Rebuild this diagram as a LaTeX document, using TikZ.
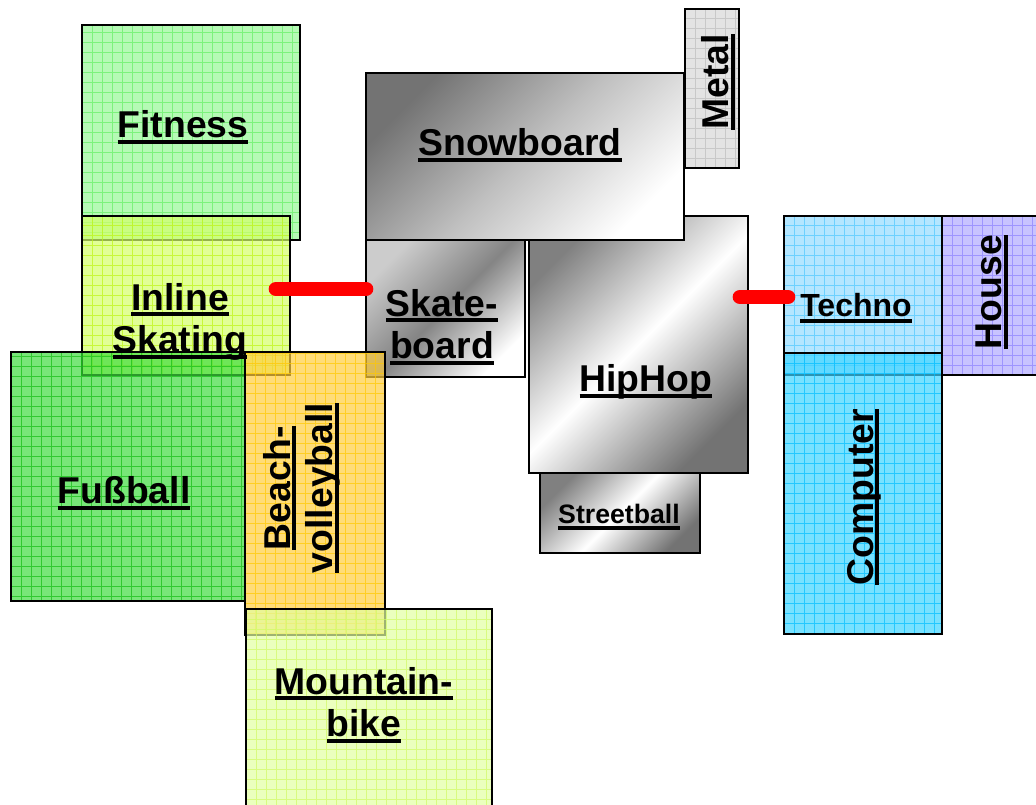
\documentclass[tikz,border=0pt]{standalone}
\usepackage{fontspec}
\setmainfont{Liberation Sans}
\usetikzlibrary{fit}
\definecolor{fitfill}{RGB}{150,248,150}  \definecolor{fitgrid}{RGB}{100,240,100}
\definecolor{inlfill}{RGB}{212,255,105}  \definecolor{inlgrid}{RGB}{190,245,20}
\definecolor{fusfill}{RGB}{62,219,62}    \definecolor{fusgrid}{RGB}{20,190,20}
\definecolor{beafill}{RGB}{255,205,62}   \definecolor{beagrid}{RGB}{255,200,0}
\definecolor{mtbfill}{RGB}{226,255,162}  \definecolor{mtbgrid}{RGB}{210,250,100}
\definecolor{tecfill}{RGB}{148,219,255}  \definecolor{tecgrid}{RGB}{80,200,255}
\definecolor{comfill}{RGB}{62,212,255}   \definecolor{comgrid}{RGB}{0,190,255}
\definecolor{houfill}{RGB}{176,169,255}  \definecolor{hougrid}{RGB}{140,130,255}
\definecolor{metfill}{RGB}{215,215,215}  \definecolor{metgrid}{RGB}{190,190,190}
\newcommand\ulbox[1]{\setbox0\hbox{#1}\rlap{\rule[-4.5pt]{\wd0}{3pt}}\box0}
\tikzset{
    tile/.style 2 args={draw=black, line width=2pt, inner sep=0pt, fill=#1, fill opacity=0.7,
        path picture={\draw[#2, line width=0.7pt, draw opacity=0.7, step=7.5pt]
            (path picture bounding box.south west) grid (path picture bounding box.north east);}}, % farbige Kachel mit Raster
    slab/.style={draw=black, line width=2pt, inner sep=0pt, shading angle=45}, % graue Verlaufsfläche
    link/.style={red, line width=11pt, line cap=round},
    lbl/.style={font=\bfseries\fontsize{28}{32}\selectfont, align=center, inner sep=0pt}
}
\begin{document}
\begin{tikzpicture}[x=0.75pt, y=-0.75pt]
    \useasboundingbox (0,0) rectangle (1036,805);
    \clip (0,0) rectangle (1036,805);

    % Sport
    \node[tile={fitfill}{fitgrid}, fit={(82,25) (300,240)}] (fitness) {};
    \node[tile={inlfill}{inlgrid}, fit={(82,216) (290,375)}] (inline) {};

    % Musik und Szene
    \node[tile={metfill}{metgrid}, fit={(685,9) (739,168)}] (metal) {};
    \node[slab, top color=black!50, bottom color=black!55, middle color=white, shading angle=45, fit={(540,473) (700,553)}] (streetball) {};
    \node[slab, top color=black!50, bottom color=black!55, middle color=white, shading angle=45, fit={(529,216) (748,473)}] (hiphop) {};
    \node[slab, top color=black!55, bottom color=white, middle color=black!25, shading angle=45, fit={(366,73) (684,240)}] (snowboard) {};
    \node[slab, top color=black!20, bottom color=white, middle color=black!48, shading angle=45, fit={(366,240) (525,377)}] (skateboard) {};

    \node[tile={fusfill}{fusgrid}, fit={(11,352) (245,601)}] (fussball) {};
    \node[tile={beafill}{beagrid}, fit={(245,352) (385,635)}] (beach) {};
    \node[tile={mtbfill}{mtbgrid}, fit={(246,609) (492,830)}] (mtb) {};

    \node[tile={tecfill}{tecgrid}, fit={(784,216) (942,375)}] (techno) {};
    \node[tile={houfill}{hougrid}, fit={(942,216) (1060,375)}] (house) {};
    \node[tile={comfill}{comgrid}, fit={(784,353) (942,634)}] (computer) {};

    % Verbindungen
    \coordinate (inl-r) at (276,289);
    \coordinate (skb-l) at (366,289);
    \coordinate (hip-r) at (740,297);
    \coordinate (tec-l) at (788,297);
    \draw[link] (inl-r) -- (skb-l);
    \draw[link] (hip-r) -- (tec-l);

    % Beschriftungen
    \node[lbl] (fitness-t) at (183,127) {\ulbox{Fitness}};
    \node[lbl] (inline-t) at (180,322) {\ulbox{Inline}\\\ulbox{Skating}};
    \node[lbl] (fussball-t) at (124,493) {\ulbox{Fußball}};
    \node[lbl, rotate=90] (beach-t) at (302,488) {\ulbox{Beach-}\\\ulbox{volleyball}};
    \node[lbl] (mtb-t) at (364,705) {\ulbox{Mountain-}\\\ulbox{bike}};
    \node[lbl] (snowboard-t) at (520,145) {\ulbox{Snowboard}};
    \node[lbl] (skateboard-t) at (442,327) {\ulbox{Skate-}\\\ulbox{board}};
    \node[lbl] (hiphop-t) at (646,382) {\ulbox{HipHop}};
    \node[lbl, font=\bfseries\fontsize{20}{24}\selectfont] (streetball-t) at (619,517) {\ulbox{Streetball}};
    \node[lbl, rotate=90] (metal-t) at (718,82) {\ulbox{Metal}};
    \node[lbl, font=\bfseries\fontsize{24}{28}\selectfont] (techno-t) at (856,308) {\ulbox{Techno}};
    \node[lbl, rotate=90] (house-t) at (992,292) {\ulbox{House}};
    \node[lbl, rotate=90] (computer-t) at (864,497) {\ulbox{Computer}};
\end{tikzpicture}
\end{document}
